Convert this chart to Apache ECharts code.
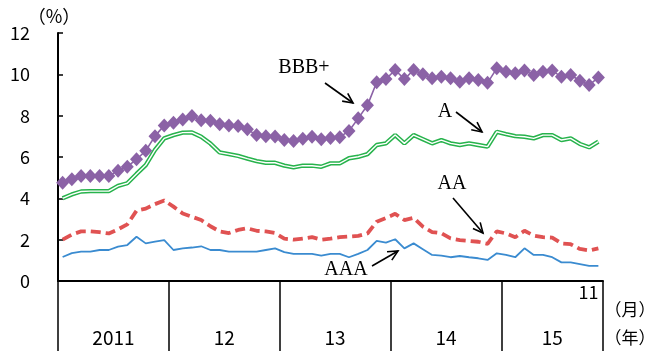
<!DOCTYPE html>
<html>
<head>
<meta charset="utf-8">
<script src="https://cdn.jsdelivr.net/npm/echarts@6/dist/echarts.min.js"></script>
<style>
html, body { margin: 0; padding: 0; background: #fff; }
#chart { width: 655px; height: 351px; }
</style>
</head>
<body>
<div id="chart"></div>
<script>
// Years shown under the axis and how many months each one covers
const yearLabels = ['2011', '12', '13', '14', '15'];
const monthsPerYear = [12, 12, 12, 12, 11];

// Value axis (%)
const yMin = 0;
const yMax = 12;
const yStep = 2;

// Monthly spreads by rating, Jan 2011 - Nov 2015 (%)
const ratingAAA = [
  1.16, 1.35, 1.42, 1.42, 1.50, 1.50, 1.66, 1.74, 2.14, 1.82, 1.90, 1.98,
  1.50, 1.58, 1.62, 1.68, 1.50, 1.50, 1.42, 1.42, 1.42, 1.42, 1.50, 1.58,
  1.40, 1.31, 1.31, 1.31, 1.23, 1.31, 1.31, 1.15, 1.31, 1.50, 1.94, 1.86,
  2.02, 1.58, 1.82, 1.54, 1.26, 1.23, 1.15, 1.21, 1.15, 1.10, 1.02, 1.34,
  1.26, 1.15, 1.58, 1.26, 1.26, 1.15, 0.90, 0.90, 0.82, 0.73, 0.73
];
const ratingAA = [
  2.00, 2.25, 2.40, 2.40, 2.36, 2.30, 2.50, 2.74, 3.40, 3.50, 3.72, 3.90,
  3.60, 3.27, 3.11, 2.95, 2.65, 2.40, 2.32, 2.47, 2.55, 2.43, 2.40, 2.32,
  2.05, 2.00, 2.05, 2.12, 2.00, 2.05, 2.12, 2.15, 2.18, 2.30, 2.87, 3.05,
  3.25, 2.95, 3.06, 2.63, 2.37, 2.31, 2.06, 1.98, 1.94, 1.90, 1.80, 2.40,
  2.30, 2.12, 2.43, 2.20, 2.12, 2.10, 1.82, 1.78, 1.55, 1.48, 1.58
];
const ratingA = [
  4.00, 4.19, 4.33, 4.35, 4.35, 4.35, 4.60, 4.73, 5.18, 5.61, 6.34, 6.90,
  7.06, 7.18, 7.19, 6.98, 6.65, 6.22, 6.14, 6.05, 5.92, 5.80, 5.72, 5.72,
  5.58, 5.50, 5.58, 5.58, 5.53, 5.69, 5.69, 5.94, 6.01, 6.14, 6.58, 6.66,
  7.06, 6.66, 7.06, 6.86, 6.66, 6.82, 6.66, 6.58, 6.66, 6.58, 6.50, 7.22,
  7.11, 7.01, 6.98, 6.90, 7.06, 7.06, 6.82, 6.90, 6.63, 6.47, 6.74
];
const ratingBBBPlus = [
  4.75, 4.92, 5.08, 5.08, 5.08, 5.08, 5.34, 5.53, 5.89, 6.30, 7.01, 7.53,
  7.66, 7.82, 7.98, 7.78, 7.76, 7.58, 7.52, 7.50, 7.34, 7.06, 7.00, 6.99,
  6.82, 6.78, 6.88, 6.98, 6.86, 6.92, 6.96, 7.26, 7.87, 8.50, 9.62, 9.77,
  10.21, 9.77, 10.21, 10.00, 9.81, 9.88, 9.81, 9.64, 9.81, 9.72, 9.59, 10.29,
  10.13, 10.05, 10.18, 9.97, 10.13, 10.18, 9.88, 9.97, 9.69, 9.48, 9.85
];

// One category per month, "year-month"
const categories = [];
const yearCenters = [];
yearLabels.forEach(function (y, k) {
  const start = categories.length;
  for (let m = 1; m <= monthsPerYear[k]; m++) categories.push(y + '-' + m);
  yearCenters.push({ pos: start + monthsPerYear[k] / 2, label: y });
});
const lastIdx = categories.length - 1;

const gothic = '"Noto Sans CJK JP", "Noto Sans", sans-serif';
const serif = '"Liberation Serif", "DejaVu Serif", serif';

function arrow(x1, y1, x2, y2) {
  const ang = Math.atan2(y2 - y1, x2 - x1);
  const len = 11, spread = 0.45;
  const p1 = [x2 - len * Math.cos(ang - spread), y2 - len * Math.sin(ang - spread)];
  const p2 = [x2 - len * Math.cos(ang + spread), y2 - len * Math.sin(ang + spread)];
  return {
    type: 'group',
    children: [
      { type: 'line', shape: { x1: x1, y1: y1, x2: x2, y2: y2 },
        style: { stroke: '#000', lineWidth: 1.6 } },
      { type: 'polyline', shape: { points: [p1, [x2, y2], p2] },
        style: { stroke: '#000', lineWidth: 1.6, fill: null } }
    ]
  };
}

function label(text, x, y, font, align) {
  return {
    type: 'text', x: x, y: y,
    style: { text: text, font: font, fill: '#000', align: align || 'center', verticalAlign: 'middle' }
  };
}

const chart = echarts.init(document.getElementById('chart'), null, { renderer: 'canvas' });

chart.setOption({
  animation: false,
  backgroundColor: '#fff',
  grid: { left: 58, right: 52, top: 33, bottom: 70, containLabel: false },
  xAxis: [
    {
      type: 'category',
      data: categories,
      boundaryGap: true,
      axisLine: { show: true, lineStyle: { color: '#000', width: 2 } },
      axisTick: {
        show: true,
        interval: function (idx) { return idx % 12 === 0; },
        length: 80,
        lineStyle: { color: '#000', width: 1.5 }
      },
      axisLabel: {
        interval: function (idx) { return idx === lastIdx; },
        formatter: function (v) { return v.split('-')[1]; },
        align: 'right',
        margin: 2,
        color: '#000',
        fontSize: 18,
        fontFamily: gothic
      },
      splitLine: { show: false }
    },
    {
      type: 'value',
      position: 'bottom',
      min: 0,
      max: categories.length,
      interval: 0.5,
      axisLine: { show: false },
      axisTick: { show: false },
      splitLine: { show: false },
      axisLabel: {
        margin: 47,
        color: '#000',
        fontSize: 19,
        fontFamily: gothic,
        formatter: function (v) {
          const c = yearCenters.find(function (e) { return Math.abs(e.pos - v) < 1e-6; });
          return c ? c.label : '';
        }
      }
    }
  ],
  yAxis: {
    type: 'value',
    min: yMin,
    max: yMax,
    interval: yStep,
    axisLine: { show: true, lineStyle: { color: '#000', width: 2 } },
    axisTick: { show: true, inside: true, length: 5, lineStyle: { color: '#000', width: 1.5 } },
    axisLabel: { margin: 28, color: '#000', fontSize: 18, fontFamily: gothic },
    splitLine: { show: false }
  },
  series: [
    {
      name: 'AAA', type: 'line', data: ratingAAA, symbol: 'none',
      lineStyle: { color: '#3a8bd0', width: 1.8 }, z: 2
    },
    {
      name: 'AA', type: 'line', data: ratingAA, symbol: 'none',
      lineStyle: { color: '#e05252', width: 3.8, type: [10, 5] }, z: 3
    },
    {
      name: 'A', type: 'line', data: ratingA, symbol: 'none',
      lineStyle: { color: '#27b34c', width: 4.4 }, z: 4
    },
    {
      name: 'A-inner', type: 'line', data: ratingA, symbol: 'none', silent: true,
      lineStyle: { color: '#ffffff', width: 1.4 }, z: 5
    },
    {
      name: 'BBB+', type: 'line', data: ratingBBBPlus,
      symbol: 'diamond', symbolSize: [13, 14], showAllSymbol: true,
      itemStyle: { color: '#8b62a6' },
      lineStyle: { color: '#8b62a6', width: 1.6 }, z: 6
    }
  ],
  graphic: [
    label('（%）', 54, 16, '18px ' + gothic),
    label('（月）', 630, 310, '17px ' + gothic),
    label('（年）', 630, 338, '17px ' + gothic),
    label('BBB+', 304, 68, '20px ' + serif),
    label('A', 445, 112, '20px ' + serif),
    label('AA', 452, 184, '20px ' + serif),
    label('AAA', 346, 270, '20px ' + serif),
    arrow(325, 83, 353, 103),
    arrow(456, 112, 482, 132),
    arrow(453, 198, 483, 233),
    arrow(372, 266, 398, 251)
  ]
});
</script>
</body>
</html>
